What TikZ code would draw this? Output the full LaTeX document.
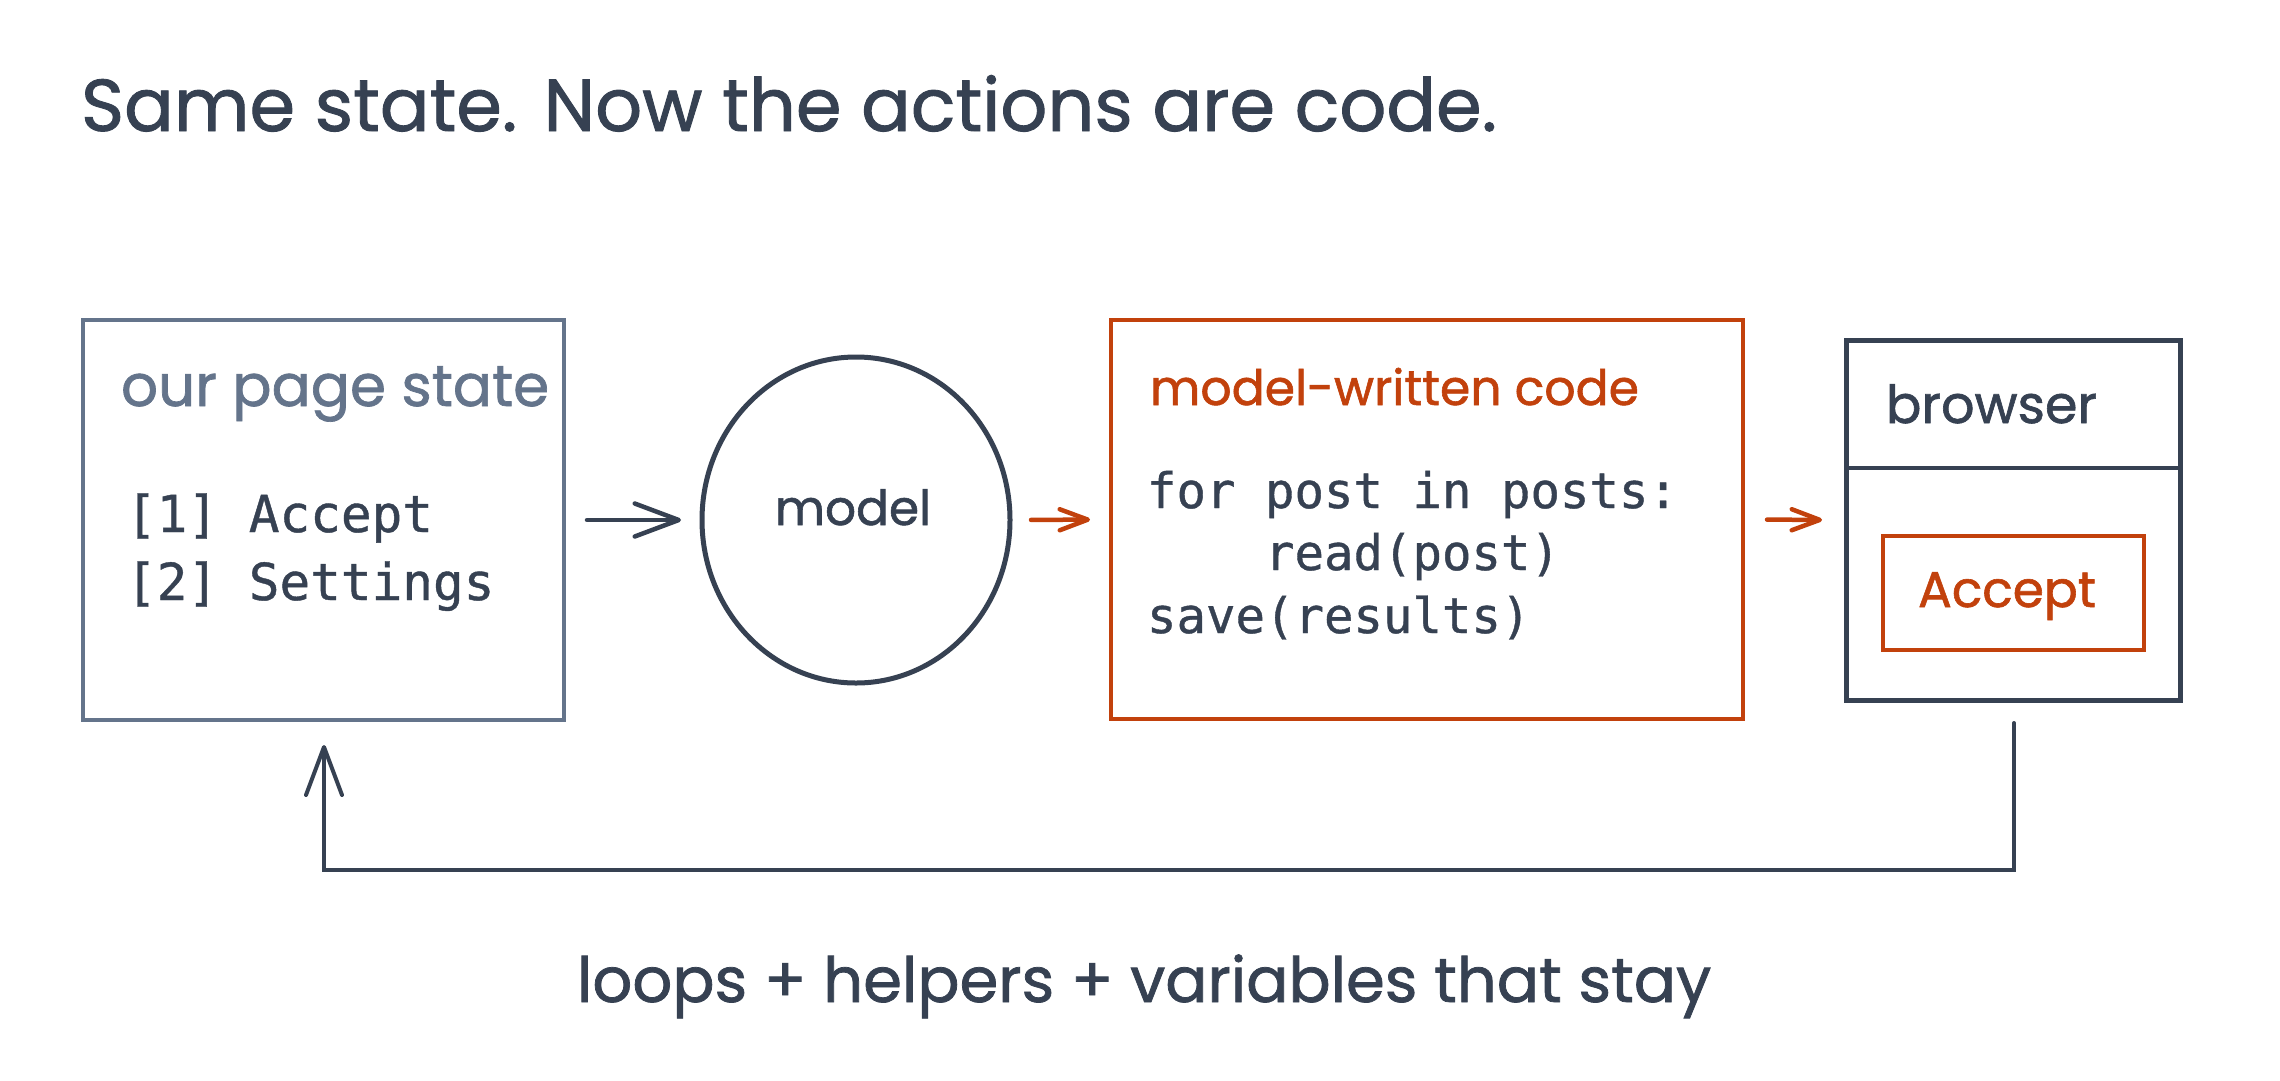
\documentclass[tikz,border=0pt]{standalone}
\usepackage{fontspec}
\usepackage{graphicx}
\usetikzlibrary{arrows.meta,shapes.geometric}
\newfontfamily\handfont[FakeBold=1.2]{Poppins}
\newfontfamily\monofont[FakeBold=0.8]{DejaVu Sans Mono}
\definecolor{ink}{HTML}{364152}
\definecolor{slate}{HTML}{64748B}
\definecolor{rust}{HTML}{C2410C}
\newcommand{\handtext}[2]{\resizebox{#1pt}{!}{\handfont #2}}
\tikzset{
  boxshape/.style={draw, rectangle, inner sep=0pt, outer sep=0pt, line width=4.5pt, anchor=north west},
  txt/.style={inner sep=0pt, outer sep=0pt, anchor=base west},
  codetxt/.style={txt, text=ink, font=\monofont\fontsize{49}{62}\selectfont},
  statetxt/.style={txt, text=ink, font=\monofont\fontsize{51}{68}\selectfont},
  darrow/.style={draw=ink, line width=4.5pt, line cap=round, -{Straight Barb[round, length=44pt, width=33pt]}},
  oarrow/.style={draw=rust, line width=4.5pt, line cap=round, -{Straight Barb[round, length=28pt, width=21pt]}},
}
\begin{document}
\begin{tikzpicture}[x=1pt, y=-1pt]
\fill[white] (0,0) rectangle (2280,1080);
\useasboundingbox (0,0) rectangle (2280,1080);

% title
\node[txt, text=ink] (title) at (81,131) {\handtext{1416}{Same state. Now the actions are code.}};

% page state box
\node[boxshape, draw=slate, minimum width=481pt, minimum height=400pt] (state) at (83,320) {};
\node[txt, text=slate] (statelabel) at (121,406) {\handtext{428}{our page state}};
\node[statetxt] (item1) at (126,532) {[1] Accept};
\node[statetxt] (item2) at (126,600) {[2] Settings};

% model circle
\node[draw=ink, line width=5pt, ellipse, minimum width=308pt, minimum height=326pt, inner sep=0pt, outer sep=0pt] (model) at (856,520) {};
\node[inner sep=0pt, anchor=base] (modellabel) at (853,525) {\color{ink}\handtext{156}{model}};

% code box
\node[boxshape, draw=rust, minimum width=632pt, minimum height=399pt] (code) at (1111,320) {};
\node[txt, text=rust] (codelabel) at (1150,405) {\handtext{489}{model-written code}};
\node[codetxt] (code1) at (1147,508) {for post in posts:};
\node[codetxt] (code2) at (1147,570) {\hphantom{xxxx}read(post)};
\node[codetxt] (code3) at (1147,633) {save(results)};

% browser box
\node[boxshape, draw=ink, line width=5pt, minimum width=334pt, minimum height=360pt] (browser) at (1846,340) {};
\draw[ink, line width=4.5pt] (browser.west |- 0,468) -- (browser.east |- 0,468);
\node[txt, text=ink] (browserlabel) at (1886,423) {\handtext{211}{browser}};
\node[boxshape, draw=rust, minimum width=261pt, minimum height=114pt] (btn) at (1883,536) {};
\node[txt, text=rust] (btnlabel) at (1918,607) {\handtext{178}{Accept}};

% arrows
\draw[darrow, shorten <=23pt, shorten >=21pt] (state.east) -- (model.west);
\draw[oarrow, shorten <=21pt, shorten >=21pt] (model.east) -- (code.west);
\draw[oarrow, shorten <=24pt, shorten >=24pt] (code.east) -- (browser.west);

% feedback loop
\coordinate (fbstart) at (2014,723);
\coordinate (fbend) at (324,745);
\draw[ink, line width=4pt, line cap=round, -{Straight Barb[round, length=48pt, width=36pt]}]
  (fbstart) -- (fbstart |- 0,870) -| (fbend);

% bottom caption
\node[txt, text=ink] (caption) at (577,1002) {\handtext{1134}{loops + helpers + variables that stay}};
\end{tikzpicture}
\end{document}
